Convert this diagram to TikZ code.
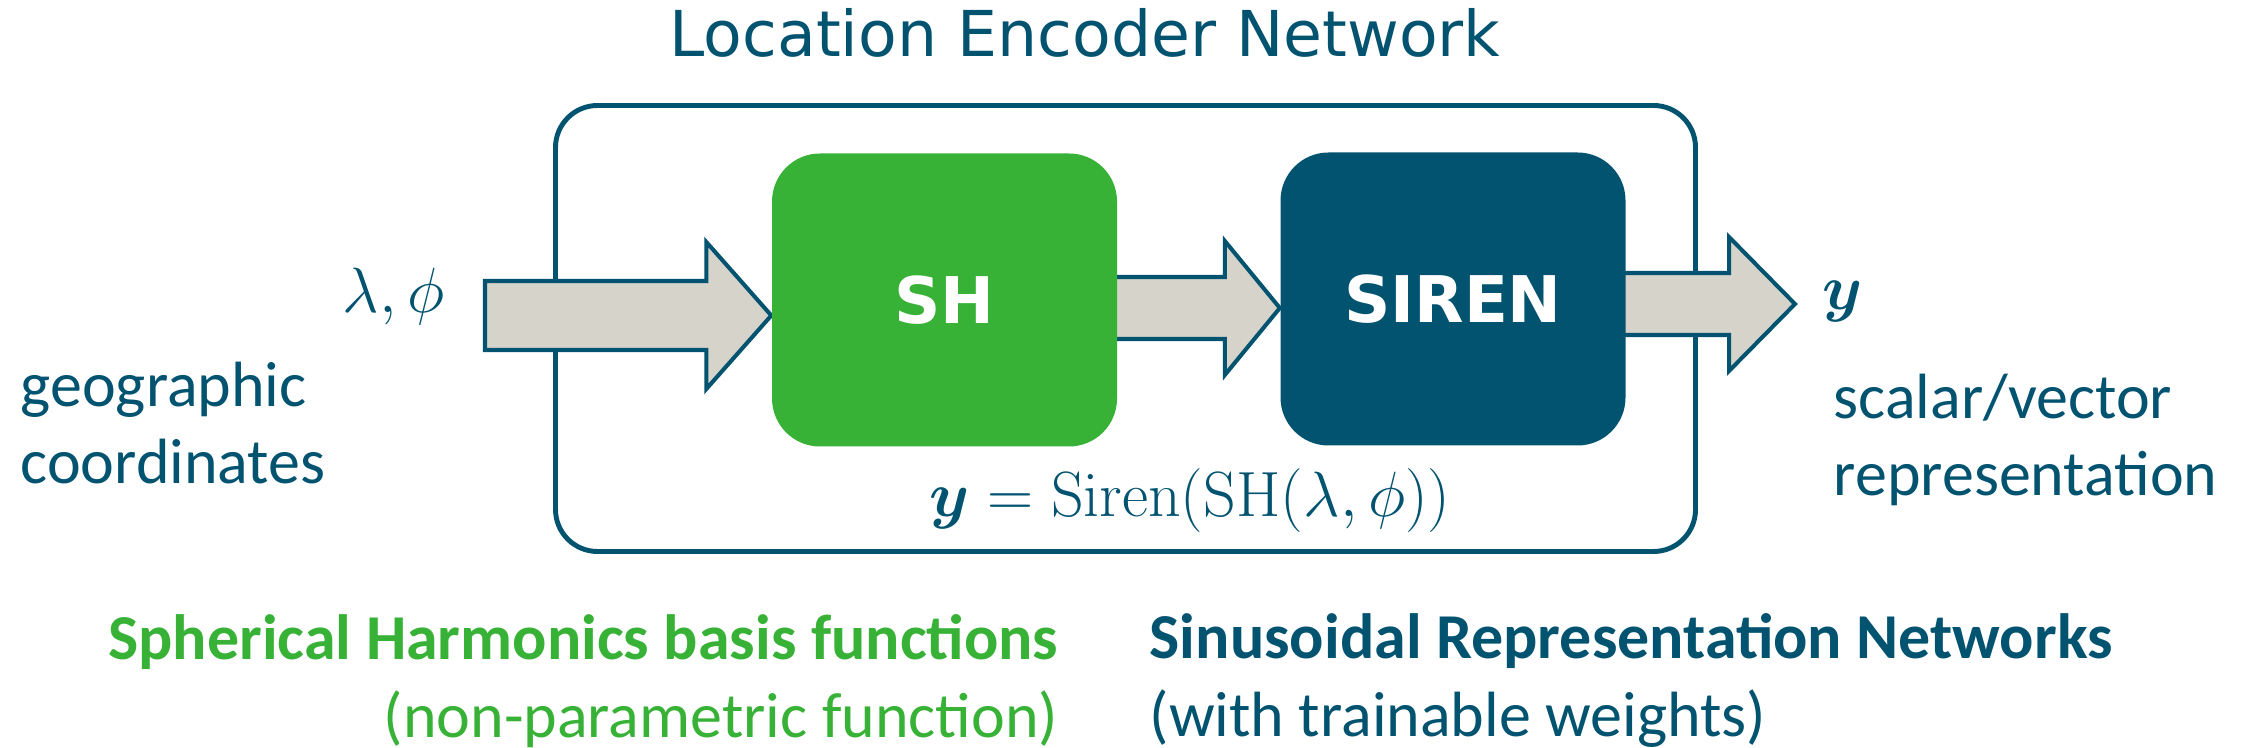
\RequirePackage{fix-cm}
\documentclass[tikz,border=0pt]{standalone}
\usepackage{amsmath}
\usepackage[no-math]{fontspec}
\setmainfont{Carlito}
\newfontfamily\headfont{DejaVu Sans}
\usetikzlibrary{calc,positioning}
\definecolor{Navy}{HTML}{025370}
\definecolor{Leaf}{HTML}{37B236}
\definecolor{Stone}{HTML}{D6D3CB}
\pgfdeclarelayer{back}
\pgfdeclarelayer{mid}
\pgfsetlayers{back,mid,main}
\tikzset{
  blockbox/.style={rounded corners=0.48cm,minimum width=3.45cm,minimum height=2.93cm,inner sep=0pt,text=white,font=\headfont\bfseries\fontsize{18.3}{22}\selectfont},
  encbox/.style={draw=Navy,line width=1.4pt,rounded corners=0.42cm,minimum width=11.40cm,minimum height=4.46cm,inner sep=0pt},
  arrowbody/.style={draw=Navy,fill=Stone,line width=1.15pt,line join=miter},
  headtext/.style={text=Navy,inner sep=0pt,font=\headfont\fontsize{18}{22}\selectfont},
  sidetext/.style={text=Navy,inner sep=0pt,font=\fontsize{18.2}{22}\selectfont},
  boldtext/.style={text=Navy,inner sep=0pt,font=\bfseries\fontsize{18.2}{22}\selectfont},
  mathtext/.style={text=Navy,inner sep=0pt,font=\fontsize{18.2}{22}\selectfont}
}
% fat block arrow: tail point, tip point, half shaft, half head, head length
\newcommand{\fatarrow}[5]{%
  \begin{pgfonlayer}{mid}
    \draw[arrowbody] let \p1=#1, \p2=#2 in
      (\x1,{\y2+#3}) -- ({\x2-#5},{\y2+#3}) -- ({\x2-#5},{\y2+#4}) -- (\x2,\y2)
      -- ({\x2-#5},{\y2-#4}) -- ({\x2-#5},{\y2-#3}) -- (\x1,{\y2-#3}) -- cycle;
  \end{pgfonlayer}}

\begin{document}
\begin{tikzpicture}
  \useasboundingbox (0,0) rectangle (22.44,7.48);
  % blocks
  \node[blockbox,fill=Leaf] (sh) at (9.445,4.48) {SH};
  \node[blockbox,fill=Navy] (siren) at (14.53,4.49) {SIREN};
  \begin{pgfonlayer}{back}
    \node[encbox] (enc) at (11.255,4.195) {};
  \end{pgfonlayer}
  \node[headtext,anchor=base] (title) at (10.85,6.91) {Location Encoder Network};
  % arrows
  \coordinate (in) at (4.85,4.325);
  \coordinate (out) at (17.95,4.44);
  \fatarrow{(in)}{(in -| sh.west)}{0.345cm}{0.735cm}{0.65cm}
  \fatarrow{($(sh.east)+(-0.1,0)$)}{($(siren.west)+(0,-0.09)$)}{0.31cm}{0.67cm}{0.55cm}
  \fatarrow{($(siren.east)+(-0.1,0)$)}{(out)}{0.31cm}{0.67cm}{0.66cm}
  % inputs and outputs
  \node[mathtext,anchor=base west] (coords) at (3.42,4.35) {$\lambda,\phi$};
  \node[mathtext,anchor=base west] (yout) at (18.22,4.38) {$\boldsymbol{y}$};
  \node[mathtext,anchor=base] (formula) at (11.90,2.31) {$\boldsymbol{y}=\mathrm{Siren}(\mathrm{SH}(\lambda,\phi))$};
  \node[sidetext,anchor=base west] (geo) at (0.20,3.41) {geographic};
  \node[sidetext,anchor=base west] (geo2) at (0.20,2.64) {coordinates};
  \node[sidetext,anchor=base west] (rep) at (18.33,3.29) {scalar/vector};
  \node[sidetext,anchor=base west] (rep2) at (18.33,2.52) {representation};
  % captions
  \node[boldtext,text=Leaf,anchor=base east] (shname) at (10.59,0.88) {Spherical Harmonics basis functions};
  \node[sidetext,text=Leaf,anchor=base east] (shnote) at (10.59,0.11) {(non-parametric function)};
  \node[boldtext,anchor=base west] (sirenname) at (11.49,0.89) {Sinusoidal Representation Networks};
  \node[sidetext,anchor=base west] (sirennote) at (11.49,0.12) {(with trainable weights)};
\end{tikzpicture}
\end{document}
